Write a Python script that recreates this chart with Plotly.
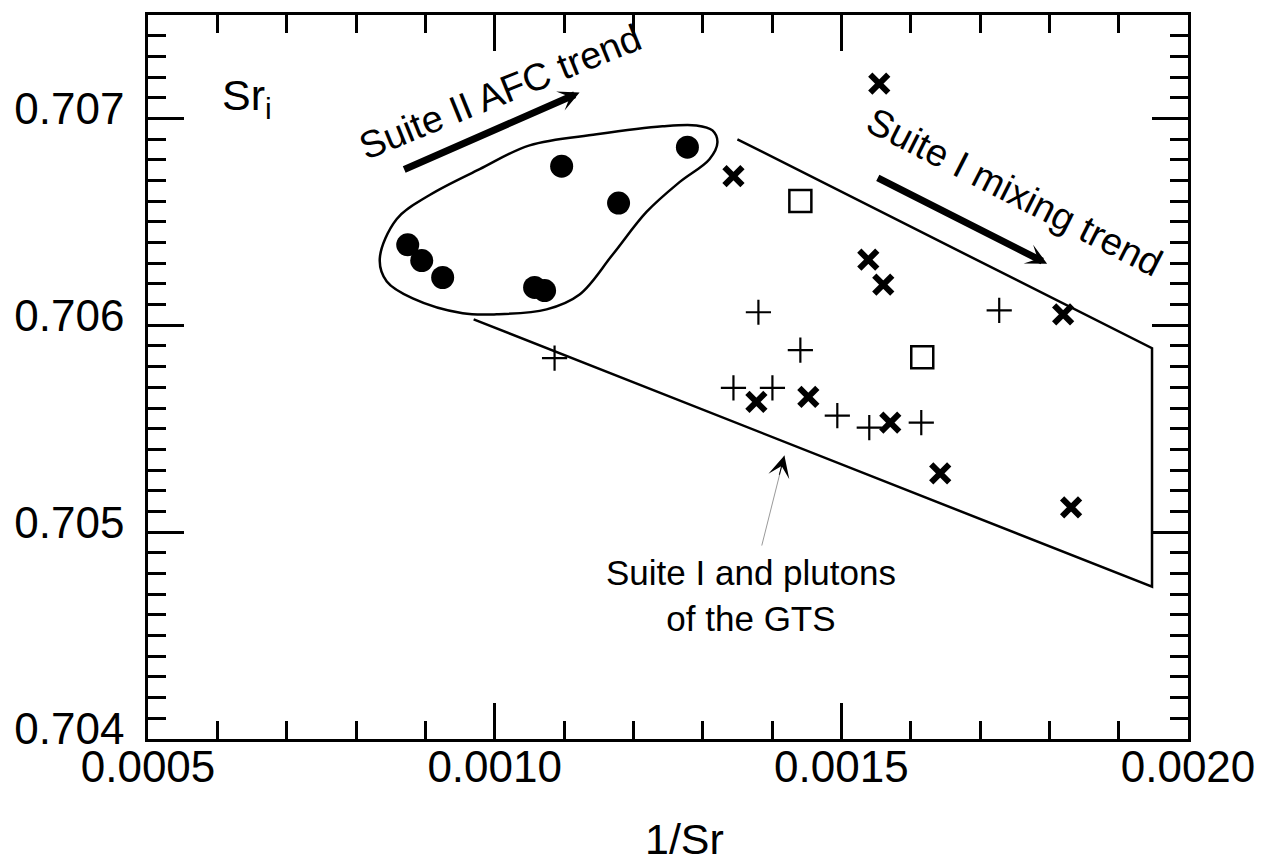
import numpy as np
import plotly.graph_objects as go

# ---------------- data ----------------
# Suite II (filled circles)
suite2_x = [0.001278, 0.0010966, 0.0011787, 0.0008746, 0.0008948, 0.000925, 0.0010576, 0.001072]
suite2_y = [0.706861, 0.706769, 0.706591, 0.706389, 0.706313, 0.706231, 0.706183, 0.706168]

# Suite I (bold crosses)
suite1_x = [0.0015547, 0.0013444, 0.0015389, 0.0015605, 0.0018199, 0.0013775, 0.0014524, 0.0015706, 0.0016426, 0.0018314]
suite1_y = [0.707168, 0.706721, 0.706317, 0.706197, 0.706053, 0.705630, 0.705654, 0.705529, 0.705284, 0.705120]

# GTS plutons (plus signs)
gts_x = [0.0010864, 0.0013804, 0.0014409, 0.0017277, 0.0013444, 0.0014006, 0.0014942, 0.0015403, 0.0016153]
gts_y = [0.705841, 0.706063, 0.705880, 0.706072, 0.705697, 0.705697, 0.705563, 0.705505, 0.705529]

# open squares
sq_x = [0.0014409, 0.0016167]
sq_y = [0.706601, 0.705846]

# Suite II field outline (closed)
blob_x = [0.0010504, 0.001147, 0.0012421, 0.001291, 0.0013141, 0.0013213, 0.0013098, 0.0012666,
          0.001219, 0.00117, 0.0011225, 0.0010749, 0.0010029, 0.0009539, 0.0008818, 0.0008444,
          0.0008343, 0.0008588, 0.0009063, 0.0009784, 0.0010504]
blob_y = [0.706870, 0.706923, 0.706962, 0.706966, 0.706942, 0.706885, 0.706803, 0.706692,
          0.706548, 0.706341, 0.706149, 0.706077, 0.706053, 0.706058, 0.706130, 0.706212,
          0.706322, 0.706514, 0.706630, 0.706755, 0.706870]

# Suite I / GTS envelope (open polygon)
env_x = [0.0013501, 0.0019481, 0.0019481, 0.0009697]
env_y = [0.706899, 0.705889, 0.704736, 0.706029]

# axis ticks
x_tickvals = [0.0005, 0.0010, 0.0015, 0.0020]
x_ticktext = ["0.0005", "0.0010", "0.0015", "0.0020"]
y_tickvals = [0.704, 0.7045, 0.705, 0.7055, 0.706, 0.7065, 0.707]
y_ticktext = ["0.704", "", "0.705", "", "0.706", "", "0.707"]

FONT = "Arial, Liberation Sans, sans-serif"

fig = go.Figure()

fig.add_trace(go.Scatter(x=blob_x, y=blob_y, mode="lines",
                         line=dict(color="black", width=2.5, shape="spline", smoothing=1.0),
                         hoverinfo="skip", showlegend=False))
fig.add_trace(go.Scatter(x=env_x, y=env_y, mode="lines",
                         line=dict(color="black", width=2.5),
                         hoverinfo="skip", showlegend=False))

fig.add_trace(go.Scatter(x=suite2_x, y=suite2_y, mode="markers", name="Suite II",
                         marker=dict(symbol="circle", size=23, color="black"), showlegend=False))
fig.add_trace(go.Scatter(x=gts_x, y=gts_y, mode="markers", name="GTS",
                         marker=dict(symbol="cross-thin", size=18, line=dict(color="black", width=2.2)),
                         showlegend=False))
fig.add_trace(go.Scatter(x=suite1_x, y=suite1_y, mode="markers", name="Suite I",
                         marker=dict(symbol="x-thin", size=18, line=dict(color="black", width=6)),
                         showlegend=False))
fig.add_trace(go.Scatter(x=sq_x, y=sq_y, mode="markers", name="squares",
                         marker=dict(symbol="square-open", size=22, color="black", line=dict(color="black", width=2.5)),
                         showlegend=False))

annotations = [
    # thick trend arrows
    dict(x=0.0011225, y=0.707125, ax=0.0008674, ay=0.70675, xref="x", yref="y", axref="x", ayref="y",
         text="", showarrow=True, arrowhead=3, arrowsize=0.5, arrowwidth=7, arrowcolor="black"),
    dict(x=0.0017968, y=0.706298, ax=0.0015504, ay=0.706716, xref="x", yref="y", axref="x", ayref="y",
         text="", showarrow=True, arrowhead=3, arrowsize=0.5, arrowwidth=7, arrowcolor="black"),
    # thin pointer arrow (shaft + head)
    dict(x=0.0014179, y=0.705370, ax=0.0013847, ay=0.704928, xref="x", yref="y", axref="x", ayref="y",
         text="", showarrow=True, arrowhead=0, arrowwidth=1, arrowcolor="#9a9a9a"),
    dict(x=0.0014179, y=0.705370, ax=0.001410, ay=0.705270, xref="x", yref="y", axref="x", ayref="y",
         text="", showarrow=True, arrowhead=3, arrowsize=3.6, arrowwidth=1, arrowcolor="black"),
    # texts
    dict(x=0.0010074, y=0.707130, xref="x", yref="y", text="Suite II AFC trend", showarrow=False,
         textangle=-22, font=dict(family=FONT, size=38, color="black"), xanchor="center", yanchor="middle"),
    dict(x=0.001750, y=0.706644, xref="x", yref="y", text="Suite I mixing trend", showarrow=False,
         textangle=27, font=dict(family=FONT, size=38, color="black"), xanchor="center", yanchor="middle"),
    dict(x=0.0013703, y=0.704692, xref="x", yref="y", text="Suite I and plutons<br>of the GTS", showarrow=False,
         font=dict(family=FONT, size=35, color="black"), xanchor="center", yanchor="middle", align="center"),
    dict(x=0.0692, y=0.885, xref="paper", yref="paper", text="Sr<sub>i</sub>", showarrow=False,
         font=dict(family=FONT, size=43, color="black"), xanchor="left", yanchor="middle"),
    dict(x=0.5163, y=-0.138, xref="paper", yref="paper", text="1/Sr", showarrow=False,
         font=dict(family=FONT, size=43, color="black"), xanchor="center", yanchor="middle"),
]

fig.update_layout(
    width=1271, height=863,
    margin=dict(l=148, r=83, t=12, b=124),
    paper_bgcolor="white", plot_bgcolor="white",
    showlegend=False,
    annotations=annotations,
    font=dict(family=FONT, color="black"),
)

fig.update_xaxes(
    range=[0.0005, 0.0020], showgrid=False, zeroline=False,
    showline=True, linewidth=2.5, linecolor="black", mirror="allticks",
    tickmode="array", tickvals=x_tickvals, ticktext=x_ticktext,
    ticks="inside", ticklen=36, tickwidth=2.5, tickcolor="black",
    tickfont=dict(family=FONT, size=44, color="black"),
    ticklabelstandoff=-13,
    minor=dict(ticks="inside", ticklen=18, tickwidth=2.5, tickcolor="black",
               tickvals=list(np.round(np.arange(0.0005, 0.00201, 0.0001), 5))),
)
fig.update_yaxes(
    range=[0.704, 0.7075], showgrid=False, zeroline=False,
    showline=True, linewidth=2.5, linecolor="black", mirror="allticks",
    tickmode="array", tickvals=y_tickvals, ticktext=y_ticktext,
    ticks="inside", ticklen=36, tickwidth=2.5, tickcolor="black",
    tickfont=dict(family=FONT, size=44, color="black"),
    ticklabelstandoff=12, ticklabelshift=-10,
    minor=dict(ticks="inside", ticklen=18, tickwidth=2.5, tickcolor="black",
               tickvals=list(np.round(np.arange(0.704, 0.70751, 0.0001), 5))),
)

fig.write_html("out.html")
